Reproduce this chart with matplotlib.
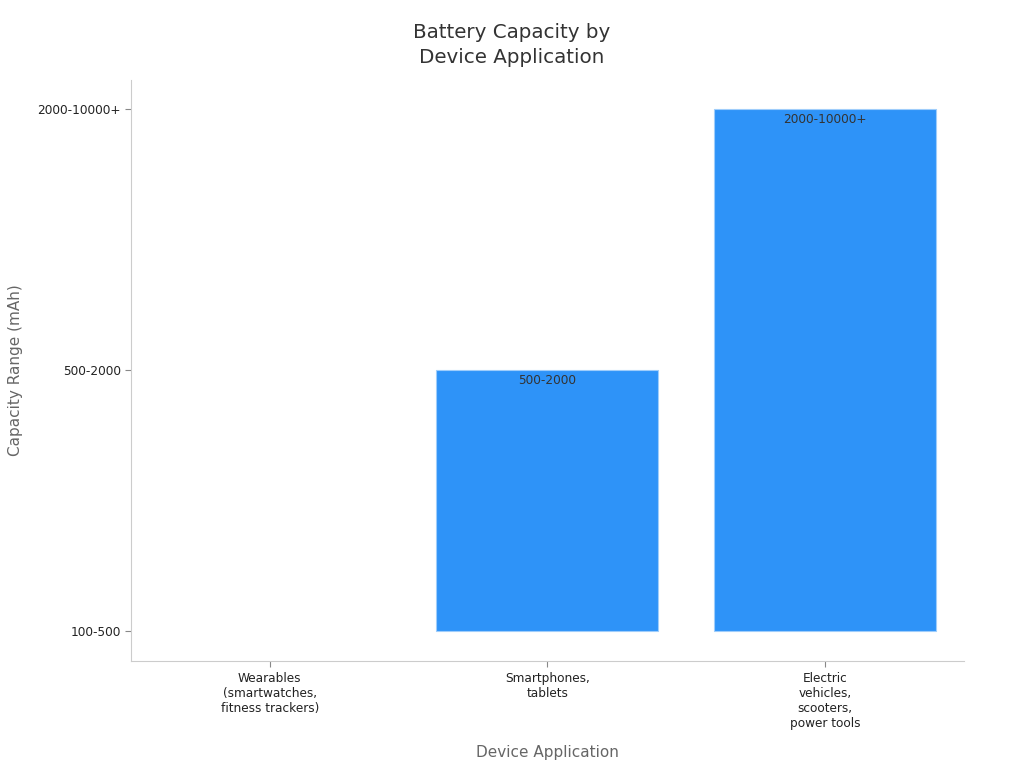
import matplotlib.pyplot as plt

categories = ["Wearables\n(smartwatches,\nfitness trackers)", "Smartphones,\ntablets",
              "Electric\nvehicles,\nscooters,\npower tools"]
capacity_levels = ["100-500", "500-2000", "2000-10000+"]
level_index = [0, 1, 2]
bar_labels = ["100-500", "500-2000", "2000-10000+"]


def main():
    fig = plt.figure(figsize=(10.24, 7.68), dpi=100)
    ax = fig.add_axes([0.128, 0.139, 0.813, 0.757])

    x = list(range(len(categories)))
    edges = ["none" if v == 0 else "#9fcdfb" for v in level_index]
    bars = ax.bar(x, level_index, width=0.8, color="#2e93f8", edgecolor=edges, linewidth=0.8)

    for b, lab, v in zip(bars, bar_labels, level_index):
        if v == 0:
            continue
        ax.text(b.get_x() + b.get_width() / 2, b.get_height() - 0.015, lab,
                ha="center", va="top", fontsize=8.7, color="#333333")

    ax.set_xlim(-0.5, 2.5)
    ax.set_ylim(-0.115, 2.11)
    ax.set_xticks(x)
    ax.set_xticklabels(categories, fontsize=8.7, color="#222222")
    ax.set_yticks(level_index)
    ax.set_yticklabels(capacity_levels, fontsize=8.7, color="#222222")
    ax.tick_params(colors="#888888", labelcolor="#222222", length=4)

    for s in ["top", "right"]:
        ax.spines[s].set_visible(False)
    for s in ["left", "bottom"]:
        ax.spines[s].set_color("#cccccc")

    ax.set_xlabel("Device Application", fontsize=11, color="#666666", labelpad=11)
    ax.set_ylabel("Capacity Range (mAh)", fontsize=11, color="#666666", labelpad=10)
    fig.suptitle("Battery Capacity by\nDevice Application", fontsize=14.3, color="#333333",
                 x=0.5, y=0.97, linespacing=1.4)

    fig.savefig("out.png", dpi=100)


if __name__ == "__main__":
    main()
